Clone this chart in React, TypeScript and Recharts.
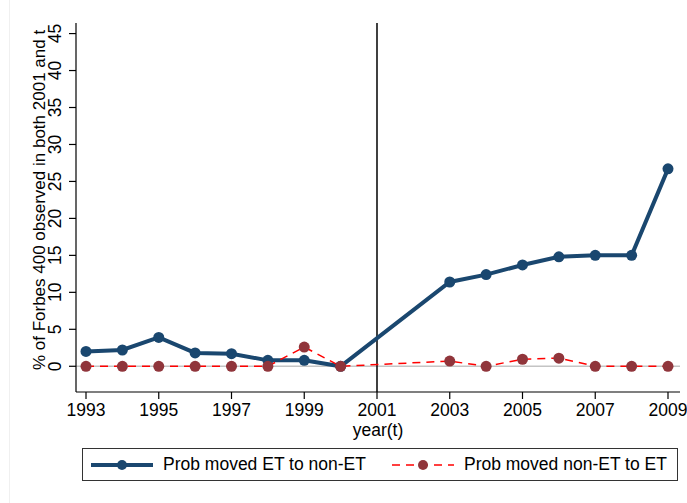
import { LineChart, Line, XAxis, YAxis, ReferenceLine } from 'recharts';

const years = [1993, 1994, 1995, 1996, 1997, 1998, 1999, 2000, 2001, 2002, 2003, 2004, 2005, 2006, 2007, 2008, 2009];
// 2001 and 2002 have no observations
const etToNonEt = [2.0, 2.2, 3.9, 1.8, 1.7, 0.8, 0.8, 0, null, null, 11.4, 12.4, 13.7, 14.8, 15.0, 15.0, 26.7];
const nonEtToEt = [0, 0, 0, 0, 0, 0, 2.6, 0, null, null, 0.7, 0, 0.95, 1.1, 0, 0, 0];
const xTicks = [1993, 1995, 1997, 1999, 2001, 2003, 2005, 2007, 2009];
const yTicks = [0, 5, 10, 15, 20, 25, 30, 35, 40, 45];
const seriesNames = ['Prob moved ET to non-ET', 'Prob moved non-ET to ET'];

const font = '"Liberation Sans", Arial, sans-serif';
const navy = '#1a476f';
const maroon = '#90353b';

const chartData = years.map((y, i) => ({
  year: y,
  a: etToNonEt[i],
  b: nonEtToEt[i],
}));

const YTick = (props: any) => {
  const { y, payload } = props;
  return (
    <text
      x={61}
      y={y}
      transform={`rotate(-90, 61, ${y})`}
      textAnchor="middle"
      fontSize={17.5}
      fontFamily={font}
      fill="#000"
    >
      {payload.value}
    </text>
  );
};

const XTick = (props: any) => {
  const { x, payload } = props;
  return (
    <text x={x} y={416} textAnchor="middle" fontSize={17.5} fontFamily={font} fill="#000">
      {payload.value}
    </text>
  );
};

const Legendbox = () => (
  <div
    style={{
      position: 'absolute',
      left: 82,
      top: 448,
      width: 594,
      height: 31,
      border: '1px solid #333',
      fontFamily: font,
      fontSize: 17.5,
      display: 'flex',
      alignItems: 'center',
    }}
  >
    <svg width={80} height={30} style={{ marginLeft: 6 }}>
      <line x1={2} y1={15} x2={64} y2={15} stroke={navy} strokeWidth={4} />
      <circle cx={33} cy={15} r={5} fill={navy} />
    </svg>
    <span style={{ marginLeft: -6, whiteSpace: 'nowrap' }}>{seriesNames[0]}</span>
    <svg width={80} height={30} style={{ marginLeft: 24 }}>
      <line x1={2} y1={15} x2={64} y2={15} stroke="#ff0000" strokeWidth={1.5} strokeDasharray="8 6" />
      <circle cx={33} cy={15} r={5} fill={maroon} />
    </svg>
    <span style={{ marginLeft: -6, whiteSpace: 'nowrap' }}>{seriesNames[1]}</span>
  </div>
);

export default function App() {
  return (
    <div style={{ position: 'fixed', left: 0, top: 0, width: 687, height: 503, background: '#fff' }}>
      <div style={{ position: 'absolute', left: 9, top: 0, width: 1, height: 503, background: '#f0f0f0' }} />
      <LineChart
        width={687}
        height={503}
        data={chartData}
        margin={{ top: 23, right: 7, left: 0, bottom: 81 }}
      >
        <XAxis
          dataKey="year"
          type="number"
          domain={[1992.725, 2009.33]}
          ticks={xTicks}
          allowDataOverflow
          height={30}
          tick={<XTick />}
          tickSize={7}
          axisLine={{ stroke: '#000', strokeWidth: 1.2 }}
          tickLine={{ stroke: '#000', strokeWidth: 1.2 }}
          label={{
            value: 'year(t)',
            content: () => (
              <text x={378} y={436} textAnchor="middle" fontSize={17.5} fontFamily={font} fill="#000">
                year(t)
              </text>
            ),
          }}
        />
        <YAxis
          type="number"
          domain={[-3.48, 46.43]}
          ticks={yTicks}
          allowDataOverflow
          width={76}
          tick={<YTick />}
          tickSize={7}
          axisLine={{ stroke: '#000', strokeWidth: 1.2 }}
          tickLine={{ stroke: '#000', strokeWidth: 1.2 }}
          label={{
            value: '% of Forbes 400 observed in both 2001 and t',
            content: () => (
              <text
                x={45}
                y={200}
                transform="rotate(-90, 45, 200)"
                textAnchor="middle"
                fontSize={17}
                fontFamily={font}
                fill="#000"
              >
                % of Forbes 400 observed in both 2001 and t
              </text>
            ),
          }}
        />
        <ReferenceLine y={0} stroke="#c4c4c4" strokeWidth={1.5} />
        <ReferenceLine x={2001} stroke="#000" strokeWidth={1.5} />
        <Line
          dataKey="a"
          name={seriesNames[0]}
          stroke={navy}
          strokeWidth={4}
          connectNulls
          dot={{ r: 5.5, fill: navy, stroke: navy, strokeWidth: 0 }}
          isAnimationActive={false}
        />
        <Line
          dataKey="b"
          name={seriesNames[1]}
          stroke="#ff0000"
          strokeWidth={1.5}
          strokeDasharray="8 6"
          connectNulls
          dot={{ r: 5.5, fill: maroon, stroke: maroon, strokeWidth: 0 }}
          isAnimationActive={false}
        />
      </LineChart>
      <Legendbox />
    </div>
  );
}
